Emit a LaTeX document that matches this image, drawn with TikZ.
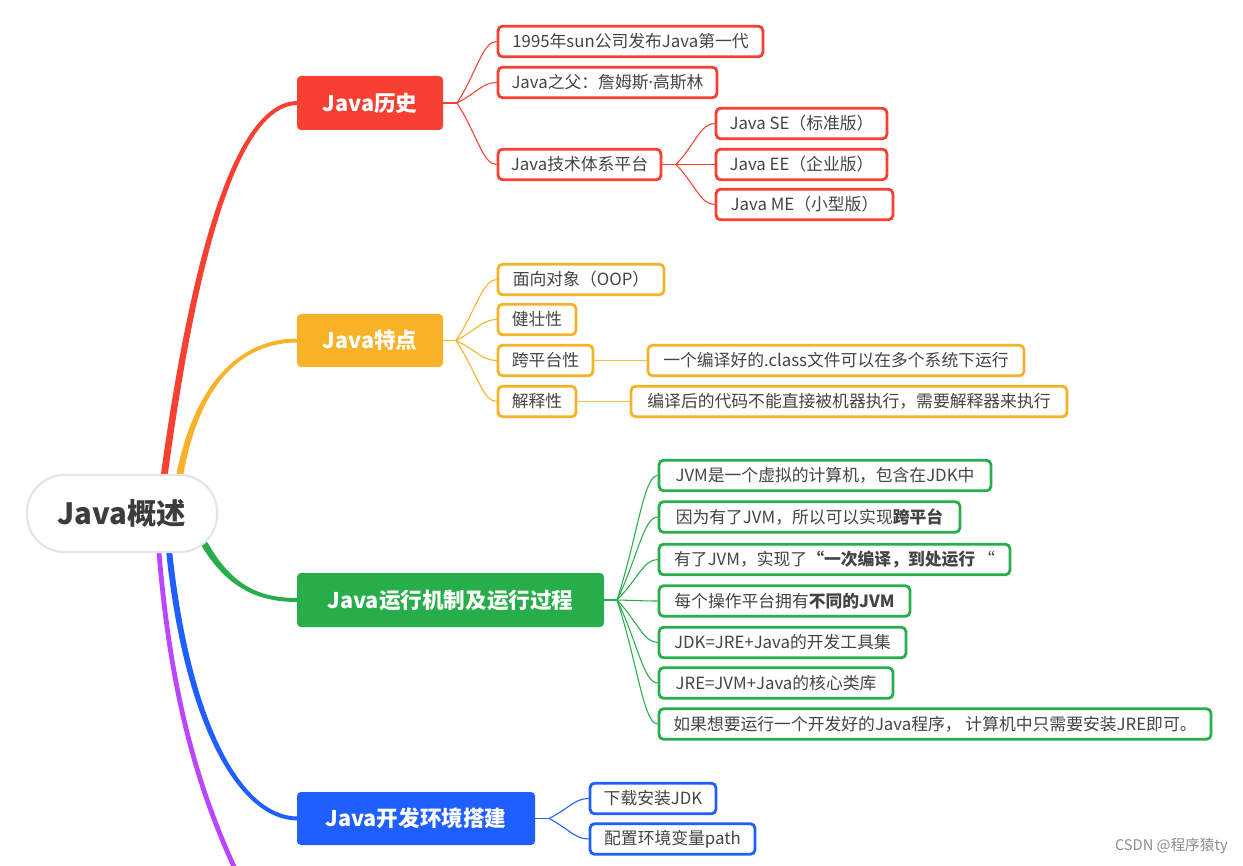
\documentclass[tikz,border=0pt]{standalone}
\usepackage{fontspec}
\setmainfont{Noto Sans CJK SC}
\newfontfamily\latinfont{Noto Sans}
\usetikzlibrary{calc}
\definecolor{cred}{RGB}{248,64,50}
\definecolor{corg}{RGB}{247,178,40}
\definecolor{cgrn}{RGB}{39,174,74}
\definecolor{cblu}{RGB}{31,94,255}
\definecolor{cpur}{RGB}{188,70,255}
\definecolor{txt}{RGB}{68,68,68}
\definecolor{rootc}{RGB}{60,60,60}
\begin{document}
\begin{tikzpicture}[x=0.75pt,y=-0.75pt,
  leaf/.style={draw, line width=2.1pt, rounded corners=3.5pt, fill=white,
    minimum height=23pt, inner sep=0pt, text=txt,
    font=\fontsize{12.6}{15}\selectfont},
  hub/.style={rounded corners=3pt, minimum height=40.5pt, inner sep=0pt,
    text=white, font=\fontsize{16.2}{19}\selectfont\bfseries},
  fork/.style={line width=0.8pt}
]
\useasboundingbox (0,0) rectangle (1243,866);
\fill[white] (0,0) rectangle (1243,866);

% ---- hubs
\node[hub, fill=cred, minimum width=109.5pt] (h) at (370,103) {Java历史};
\node[hub, fill=corg, minimum width=109.5pt, minimum height=39.75pt] (t) at (370,340.5) {Java特点};
\node[hub, fill=cgrn, minimum width=230.25pt] (m) at (450.5,600) {Java运行机制及运行过程};
\node[hub, fill=cblu, minimum width=178.5pt, minimum height=39.75pt] (e) at (416,818.5) {Java开发环境搭建};

% ---- start points inside root
\coordinate (sr) at (162,492);
\coordinate (so) at (177,492);
\coordinate (sg) at (193,522);
\coordinate (sb) at (168,540);
\coordinate (sp) at (158,540);
\coordinate (ep) at (248,896);

% ---- main tapered branches
\fill[cred] ($(sr)+(-3.5,0)$) .. controls (192,240) and (238,101) .. ($(h.west)+(1,-2)$)
  -- ($(h.west)+(1,2)$) .. controls (242,105) and (198,240) .. ($(sr)+(3.5,0)$) -- cycle;
\fill[corg] ($(so)+(-3.5,0)$) .. controls (187,399) and (230,338.5) .. ($(t.west)+(1,-2)$)
  -- ($(t.west)+(1,2)$) .. controls (230,342.5) and (193,401) .. ($(so)+(3.5,0)$) -- cycle;
\fill[cgrn] ($(sg)+(3.2,-1.5)$) .. controls (225,583.5) and (255,598) .. ($(m.west)+(1,-2)$)
  -- ($(m.west)+(1,2)$) .. controls (255,602) and (219,586.5) .. ($(sg)+(-3.2,1.5)$) -- cycle;
\fill[cblu] ($(sb)+(3,0)$) .. controls (188,718) and (240,816.5) .. ($(e.west)+(1,-2)$)
  -- ($(e.west)+(1,2)$) .. controls (238,820.5) and (182,722) .. ($(sb)+(-3,0)$) -- cycle;
\begin{scope}
\clip (0,0) rectangle (1243,866);
\draw[cpur, line width=3.6pt] (sp) .. controls (170,700) and (200,800) .. (ep);
\end{scope}

% ---- root
\node[fill=white, draw=black!10, line width=1.6pt, rounded corners=28pt,
  minimum width=142.5pt, minimum height=57.75pt, inner sep=0pt,
  font=\fontsize{22}{26}\selectfont\bfseries, text=rootc] (root) at (122,513.5) {Java概述};

% ---- red leaves
\node[leaf, draw=cred, minimum width=198.75pt] (r1) at (630.5,41.5) {1995年sun公司发布Java第一代};
\node[leaf, draw=cred, minimum width=164.25pt] (r2) at (607.5,82.5) {Java之父：詹姆斯{\latinfont ·}高斯林};
\node[leaf, draw=cred, minimum width=122.25pt] (r3) at (579.5,164.5) {Java技术体系平台};
\node[leaf, draw=cred, minimum width=128.25pt] (r3a) at (801.5,123.5) {Java SE（标准版）};
\node[leaf, draw=cred, minimum width=128.25pt] (r3b) at (801.5,164.5) {Java EE（企业版）};
\node[leaf, draw=cred, minimum width=132.75pt] (r3c) at (804.5,204.5) {Java ME（小型版）};

\coordinate (Fh) at (457,103);
\coordinate (Fr) at (676,164.5);
\draw[fork, cred] (h.east) -- (Fh);
\draw[fork, cred] (r3.east) -- (Fr);
\foreach \n in {r1,r2,r3}
  \draw[fork, cred] (Fh) .. controls ($(Fh)!0.5!(\n.west)$) and ($(\n.west)+(-14,0)$) .. (\n.west);
\foreach \n in {r3a,r3b,r3c}
  \draw[fork, cred] (Fr) .. controls ($(Fr)!0.5!(\n.west)$) and ($(\n.west)+(-14,0)$) .. (\n.west);

% ---- orange leaves
\node[leaf, draw=corg, minimum width=124.5pt] (o1) at (581,279.5) {面向对象（OOP）};
\node[leaf, draw=corg, minimum width=58.5pt] (o2) at (537,319.5) {健壮性};
\node[leaf, draw=corg, minimum width=71.25pt] (o3) at (545.5,360.5) {跨平台性};
\node[leaf, draw=corg, minimum width=58.5pt] (o4) at (537,401.5) {解释性};
\node[leaf, draw=corg, minimum width=282pt] (o3a) at (836,360.5) {一个编译好的.class文件可以在多个系统下运行};
\node[leaf, draw=corg, minimum width=327pt] (o4a) at (849,401.5) {编译后的代码不能直接被机器执行，需要解释器来执行};

\coordinate (Ft) at (456,340.5);
\draw[fork, corg] (t.east) -- (Ft);
\foreach \n in {o1,o2,o3,o4}
  \draw[fork, corg] (Ft) .. controls ($(Ft)!0.5!(\n.west)$) and ($(\n.west)+(-14,0)$) .. (\n.west);
\draw[fork, corg!85] (o3.east) -- (o3a.west);
\draw[fork, corg!85] (o4.east) -- (o4a.west);

% ---- green leaves
\node[leaf, draw=cgrn, minimum width=249pt] (g1) at (825,475.5) {JVM是一个虚拟的计算机，包含在JDK中};
\node[leaf, draw=cgrn, minimum width=225.75pt] (g2) at (809.5,517) {因为有了JVM，所以可以实现\textbf{跨平台}};
\node[leaf, draw=cgrn, minimum width=263.25pt] (g3) at (834.5,559.5) {有了JVM，实现了\textbf{“一次编译，到处运行}\,“};
\node[leaf, draw=cgrn, minimum width=188.25pt] (g4) at (784.5,601) {每个操作平台拥有\textbf{不同的JVM}};
\node[leaf, draw=cgrn, minimum width=185.25pt] (g5) at (782.5,642.5) {JDK=JRE+Java的开发工具集};
\node[leaf, draw=cgrn, minimum width=175.5pt] (g6) at (776,683) {JRE=JVM+Java的核心类库};
\node[leaf, draw=cgrn, minimum width=414pt] (g7) at (935,724) {如果想要运行一个开发好的Java程序， 计算机中只需要安装JRE即可。};

\coordinate (Fm) at (617,600);
\draw[fork, cgrn] (m.east) -- (Fm);
\foreach \n in {g1,g2,g3,g4,g5,g6,g7}
  \draw[fork, cgrn] (Fm) .. controls ($(Fm)!0.5!(\n.west)$) and ($(\n.west)+(-14,0)$) .. (\n.west);

% ---- blue leaves
\node[leaf, draw=cblu, minimum width=94.5pt] (b1) at (653,798.5) {下载安装JDK};
\node[leaf, draw=cblu, minimum width=123.75pt] (b2) at (672.5,839) {配置环境变量path};

\coordinate (Fe) at (549,818.5);
\draw[fork, cblu] (e.east) -- (Fe);
\foreach \n in {b1,b2}
  \draw[fork, cblu] (Fe) .. controls ($(Fe)!0.5!(\n.west)$) and ($(\n.west)+(-14,0)$) .. (\n.west);

% ---- watermark
\node[anchor=east, inner sep=0pt, text=black!45, font=\fontsize{11}{13}\selectfont] (wm) at (1228,846) {CSDN @程序猿ty};
\end{tikzpicture}
\end{document}
